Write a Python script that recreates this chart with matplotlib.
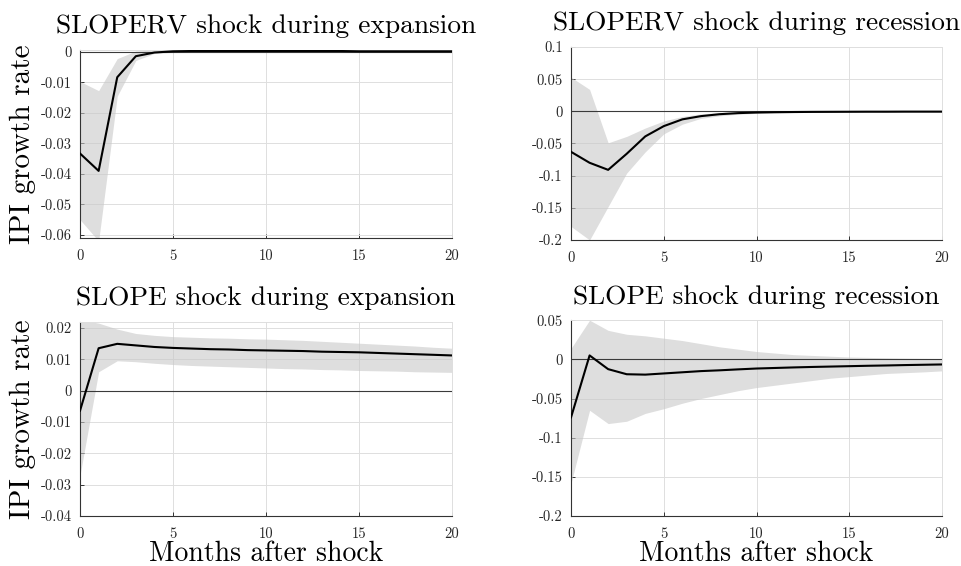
## Impulse responses of IPI growth to SLOPERV / SLOPE shocks
import matplotlib as mpl
mpl.use('Agg')
import matplotlib.pyplot as plt
import numpy as np

plt.rcParams['font.family'] = ['cmr10', 'DejaVu Serif']
plt.rcParams['axes.unicode_minus'] = False
plt.rcParams['mathtext.fontset'] = 'cm'

months = np.arange(0, 21)

# SLOPERV shock during expansion
sloperv_exp_irf = [-0.0333, -0.0390, -0.0083, -0.0014, -0.0002, 0.0002, 0.0003, 0.0003, 0.0003, 0.0003,
                   0.0003, 0.0003, 0.0003, 0.0003, 0.0003, 0.0002, 0.0002, 0.0002, 0.0002, 0.0002, 0.0002]
sloperv_exp_lo = [-0.0550, -0.0620, -0.0145, -0.0028, -0.0005, -0.0001, 0.0000, 0.0000, 0.0000, 0.0000,
                  0.0000, 0.0000, 0.0000, 0.0000, 0.0000, 0.0000, 0.0000, 0.0000, 0.0000, 0.0000, 0.0000]
sloperv_exp_hi = [-0.0097, -0.0127, -0.0022, 0.0003, 0.0006, 0.0007, 0.0007, 0.0007, 0.0007, 0.0007,
                  0.0007, 0.0007, 0.0007, 0.0006, 0.0006, 0.0006, 0.0006, 0.0005, 0.0005, 0.0005, 0.0005]

# SLOPERV shock during recession
sloperv_rec_irf = [-0.063, -0.080, -0.091, -0.066, -0.039, -0.023, -0.0125, -0.0075, -0.0045, -0.0028,
                   -0.0019, -0.0014, -0.0011, -0.0009, -0.0008, -0.0007, -0.0006, -0.0006, -0.0005, -0.0005, -0.0005]
sloperv_rec_lo = [-0.179, -0.200, -0.148, -0.096, -0.063, -0.035, -0.020, -0.011, -0.007, -0.0045,
                  -0.0032, -0.0025, -0.0020, -0.0017, -0.0015, -0.0013, -0.0012, -0.0011, -0.0010, -0.0010, -0.0010]
sloperv_rec_hi = [0.053, 0.034, -0.049, -0.039, -0.026, -0.015, -0.008, -0.004, -0.002, -0.001,
                  -0.0005, -0.0002, 0.0000, 0.0000, 0.0000, 0.0000, 0.0000, 0.0000, 0.0000, 0.0000, 0.0000]

# SLOPE shock during expansion
slope_exp_irf = [-0.0064, 0.0135, 0.0149, 0.0144, 0.0139, 0.0136, 0.0134, 0.0132, 0.0131, 0.0129,
                 0.0128, 0.0127, 0.0126, 0.0124, 0.0123, 0.0122, 0.0120, 0.0118, 0.0116, 0.0114, 0.0112]
slope_exp_lo = [-0.0270, 0.0060, 0.0095, 0.0092, 0.0087, 0.0083, 0.0080, 0.0078, 0.0076, 0.0074,
                0.0072, 0.0070, 0.0069, 0.0067, 0.0066, 0.0064, 0.0063, 0.0062, 0.0060, 0.0059, 0.0058]
slope_exp_hi = [0.0226, 0.0215, 0.0196, 0.0182, 0.0176, 0.0172, 0.0170, 0.0168, 0.0167, 0.0165,
                0.0164, 0.0162, 0.0160, 0.0157, 0.0154, 0.0151, 0.0148, 0.0145, 0.0142, 0.0138, 0.0135]

# SLOPE shock during recession
slope_rec_irf = [-0.074, 0.005, -0.0125, -0.019, -0.0195, -0.018, -0.0165, -0.015, -0.014, -0.0128,
                 -0.0117, -0.0110, -0.0103, -0.0097, -0.0092, -0.0087, -0.0082, -0.0078, -0.0073, -0.0069, -0.0065]
slope_rec_lo = [-0.158, -0.065, -0.082, -0.079, -0.069, -0.063, -0.056, -0.050, -0.045, -0.040,
                -0.036, -0.033, -0.030, -0.027, -0.024, -0.022, -0.020, -0.018, -0.017, -0.016, -0.0147]
slope_rec_hi = [0.014, 0.050, 0.037, 0.032, 0.030, 0.027, 0.024, 0.020, 0.016, 0.013,
                0.010, 0.008, 0.006, 0.005, 0.004, 0.003, 0.0025, 0.002, 0.0015, 0.0012, 0.001]

titles = ['SLOPERV shock during expansion', 'SLOPERV shock during recession',
          'SLOPE shock during expansion', 'SLOPE shock during recession']

xticks = [0, 5, 10, 15, 20]
xticklabels = ['0', '5', '10', '15', '20']

yticks_tl = [-0.06, -0.05, -0.04, -0.03, -0.02, -0.01, 0]
yticklabels_tl = ['-0.06', '-0.05', '-0.04', '-0.03', '-0.02', '-0.01', '0']
yticks_tr = [-0.2, -0.15, -0.1, -0.05, 0, 0.05, 0.1]
yticklabels_tr = ['-0.2', '-0.15', '-0.1', '-0.05', '0', '0.05', '0.1']
yticks_bl = [-0.04, -0.03, -0.02, -0.01, 0, 0.01, 0.02]
yticklabels_bl = ['-0.04', '-0.03', '-0.02', '-0.01', '0', '0.01', '0.02']
yticks_br = [-0.2, -0.15, -0.1, -0.05, 0, 0.05]
yticklabels_br = ['-0.2', '-0.15', '-0.1', '-0.05', '0', '0.05']

panels = [
    # rect, irf, lo, hi, ylim, yticks, yticklabels, title, ylabel, xlabel
    ([0.0832, 0.5795, 0.3867, 0.332], sloperv_exp_irf, sloperv_exp_lo, sloperv_exp_hi,
     (-0.061, 0.0006), yticks_tl, yticklabels_tl, titles[0], True, False),
    ([0.5936, 0.5760, 0.3857, 0.341], sloperv_rec_irf, sloperv_rec_lo, sloperv_rec_hi,
     (-0.2, 0.1), yticks_tr, yticklabels_tr, titles[1], False, False),
    ([0.0832, 0.0883, 0.3867, 0.343], slope_exp_irf, slope_exp_lo, slope_exp_hi,
     (-0.04, 0.0219), yticks_bl, yticklabels_bl, titles[2], True, True),
    ([0.5936, 0.0883, 0.3857, 0.346], slope_rec_irf, slope_rec_lo, slope_rec_hi,
     (-0.2, 0.05), yticks_br, yticklabels_br, titles[3], False, True),
]

fig = plt.figure(figsize=(9.62, 5.66), dpi=100)

for rect, irf, lo, hi, ylim, yt, ytl, title, ylab, xlab in panels:
    ax = fig.add_axes(rect)
    ax.set_axisbelow(True)
    ax.grid(True, color='#dedede', linewidth=0.7)
    ax.fill_between(months, lo, hi, color='#c8c8c8', alpha=0.6, linewidth=0, zorder=1)
    ax.axhline(0, color='#3a3a3a', linewidth=0.8, zorder=2)
    ax.plot(months, irf, color='black', linewidth=1.5, zorder=3)
    ax.set_xlim(0, 20)
    ax.set_ylim(*ylim)
    ax.set_xticks(xticks)
    ax.set_xticklabels(xticklabels)
    ax.set_yticks(yt)
    ax.set_yticklabels(ytl)
    ax.tick_params(direction='in', length=3, width=0.7, color='#333333',
                   labelsize=10.5, labelcolor='#262626', top=False, right=False)
    ax.tick_params(axis='x', pad=8)
    ax.tick_params(axis='y', pad=6)
    for side in ['left', 'bottom']:
        ax.spines[side].set_color('#333333')
        ax.spines[side].set_linewidth(0.8)
    for side in ['top', 'right']:
        ax.spines[side].set_color('#dedede')
        ax.spines[side].set_linewidth(0.7)
    ax.set_title(title, fontsize=19.7, pad=12)
    if ylab:
        ax.set_ylabel('IPI growth rate', fontsize=21, labelpad=3)
    if xlab:
        ax.set_xlabel('Months after shock', fontsize=20, labelpad=0)

plt.savefig('out.png', dpi=100)
